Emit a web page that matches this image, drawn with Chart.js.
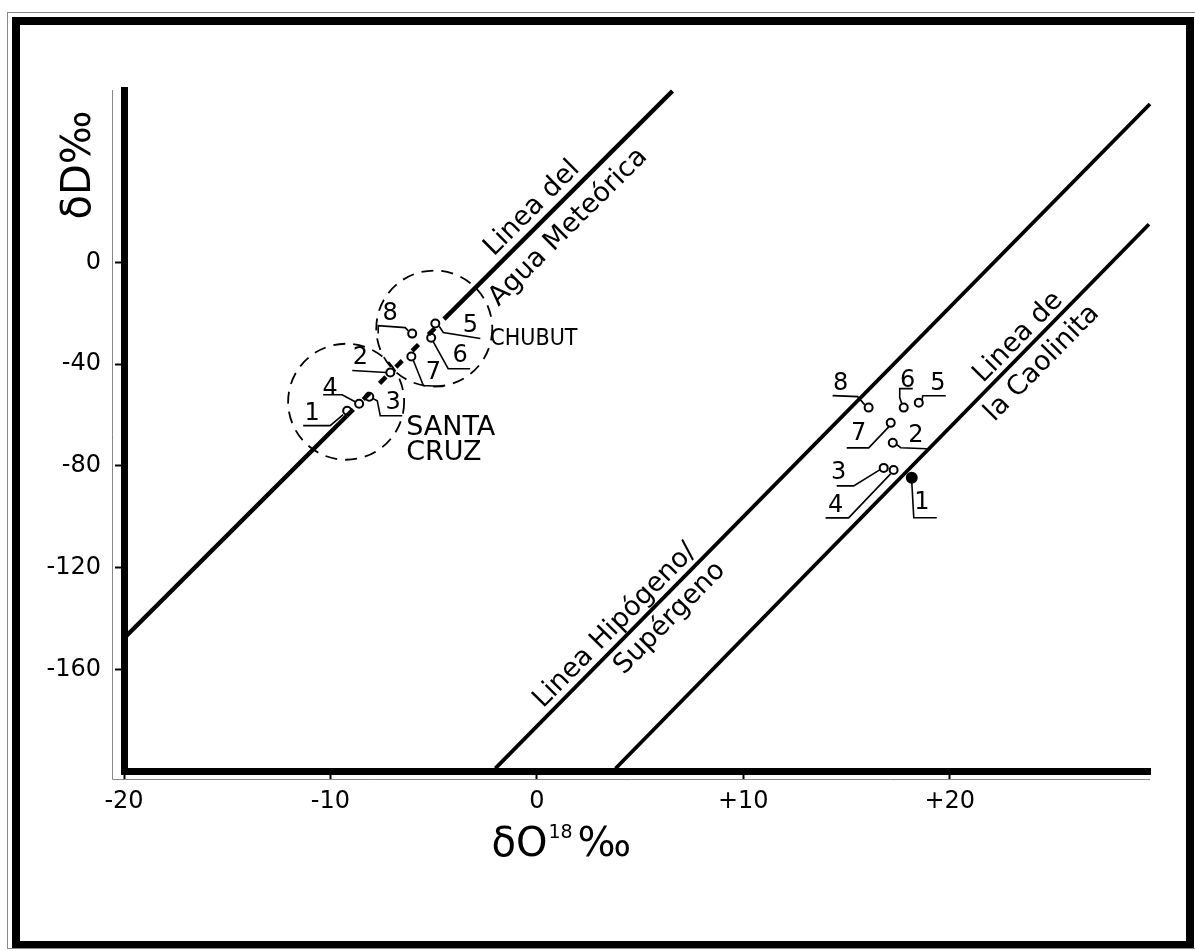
<!DOCTYPE html>
<html>
<head>
<meta charset="utf-8">
<script src="https://cdn.jsdelivr.net/npm/chart.js@4.4.1/dist/chart.umd.min.js"></script>
<style>
  html, body { margin: 0; padding: 0; background: #fff; }
  #wrap { width: 1195px; height: 951px; }
</style>
</head>
<body>
<div id="wrap"><canvas id="c" width="1195" height="951"></canvas></div>
<script>
// axis ticks
const xTicks = [-20, -10, 0, 10, 20];
const yTicks = [0, -40, -80, -120, -160];

// sample numbers (same order in both groups)
const sampleNums = ['1', '2', '3', '4', '5', '6', '7', '8'];

// waters: Santa Cruz (1-4) and Chubut (5-8)
const waterX = [-9.19, -7.10, -8.12, -8.61, -4.92, -5.12, -6.08, -6.04];
const waterY = [-58.3, -43.3, -52.8, -55.6, -24.0, -29.6, -37.0, -28.0];

// kaolinites
const kaolX = [18.16, 17.24, 16.80, 17.28, 18.50, 17.77, 17.14, 16.07];
const kaolY = [-84.7, -70.9, -80.8, -81.6, -55.2, -57.1, -63.1, -57.1];

// reference lines (end points, meteoric line broken where the samples sit)
const meteoricX = [-20, -9.2, -4.5, 6.57];
const meteoricY = [-147.8, -60.3, -22.3, 67.4];
const hypoX = [-2.01, 29.7];
const hypoY = [-199, 62.3];
const caolLineX = [3.81, 29.65];
const caolLineY = [-199, 15.0];

// province groups (dashed circles)
const groupNames = [['SANTA', 'CRUZ'], ['CHUBUT']];
const groupX = [-9.24, -4.97];
const groupY = [-54.8, -26.0];

const FONT = '"DejaVu Sans", "Liberation Sans", sans-serif';
const FONT_NARROW = '"DejaVu Sans Condensed", "DejaVu Sans", sans-serif';

const seg = (xs, ys, i) => [{ x: xs[i], y: ys[i] }, { x: xs[i + 1], y: ys[i + 1] }];
const pts = (xs, ys) => xs.map((x, i) => ({ x: x, y: ys[i] }));

// label offsets and leader polylines, relative to each point (pixels)
const waterLeaders = [
  { t: [-35, 3],   p: [[-4, 4], [-17, 15], [-44, 15]] },
  { t: [-30, -15], p: [[-4, 0], [-38, -2]] },
  { t: [24, 6],    p: [[4, 2], [8, 4], [11, 19], [33, 19]] },
  { t: [-29, -15], p: [[-4, -2], [-17, -9], [-36, -9]] },
  { t: [35, 2],    p: [[4, 3], [8, 9], [45, 15]] },
  { t: [29, 18],   p: [[2, 4], [17, 31], [39, 31]] },
  { t: [22, 16],   p: [[2, 4], [12, 29], [32, 30]] },
  { t: [-22, -20], p: [[-4, -3], [-7, -6], [-34, -8], [-34, 0]] }
];
const kaolLeaders = [
  { t: [10, 25],   p: [[0, 4], [2, 40], [25, 40]] },
  { t: [23, -7],   p: [[4, 2], [8, 5], [34, 6]] },
  { t: [-45, 5],   p: [[-4, 2], [-30, 18], [-47, 18]] },
  { t: [-58, 36],  p: [[-3, 4], [-45, 48], [-68, 48]] },
  { t: [19, -19],  p: [[3, -2], [4, -7], [27, -7]] },
  { t: [4, -27],   p: [[-2, -4], [-4, -10], [-4, -19], [9, -19]] },
  { t: [-32, 11],  p: [[-2, 4], [-22, 25], [-44, 25]] },
  { t: [-28, -24], p: [[-4, -3], [-11, -11], [-36, -12]] }
];

// rotated labels along the lines: anchor x on the line, offset across it
const lineLabels = [
  { xs: meteoricX, ys: meteoricY, at: 0.32, off: -16, text: 'Linea del' },
  { xs: meteoricX, ys: meteoricY, at: 0.74, off: 23, text: 'Agua Meteórica' },
  { xs: hypoX, ys: hypoY, at: 4.30, off: -15, text: 'Linea Hipógeno/' },
  { xs: hypoX, ys: hypoY, at: 5.79, off: 19, text: 'Supérgeno' },
  { xs: caolLineX, ys: caolLineY, at: 23.81, off: -14, text: 'Linea de' },
  { xs: caolLineX, ys: caolLineY, at: 23.75, off: 21, text: 'la Caolinita' }
];

const lineY = (xs, ys, x) => {
  const n = xs.length - 1;
  return ys[0] + (ys[n] - ys[0]) * (x - xs[0]) / (xs[n] - xs[0]);
};

const decor = {
  id: 'decor',
  beforeDraw(chart) {
    const c = chart.ctx;
    c.save();
    c.fillStyle = '#fff';
    c.fillRect(0, 0, chart.width, chart.height);
    // frame
    c.strokeStyle = '#000';
    c.lineWidth = 8;
    c.strokeRect(16, 21, 1174, 924);
    c.strokeStyle = '#888';
    c.lineWidth = 1;
    c.strokeRect(7.5, 12.5, 1190, 936);
    // faint double lines next to the axes
    const a = chart.chartArea;
    c.beginPath();
    c.moveTo(a.left - 11.5, a.top);
    c.lineTo(a.left - 11.5, a.bottom + 8.5);
    c.lineTo(a.right, a.bottom + 8.5);
    c.stroke();
    c.restore();
  },
  afterDatasetsDraw(chart) {
    const c = chart.ctx;
    const xs = chart.scales.x, ys = chart.scales.y;
    const a = chart.chartArea;
    c.save();
    c.fillStyle = '#000';
    c.strokeStyle = '#000';

    // dashed circles around the two water groups
    c.lineWidth = 1.8;
    c.setLineDash([12, 8]);
    groupX.forEach((gx, i) => {
      const px = xs.getPixelForValue(gx), py = ys.getPixelForValue(groupY[i]);
      c.beginPath();
      c.arc(px, py, 58, 0, Math.PI * 2);
      c.stroke();
    });
    c.setLineDash([]);

    // group names
    c.font = '27px ' + FONT;
    c.textAlign = 'left';
    c.textBaseline = 'middle';
    let px = xs.getPixelForValue(groupX[0]), py = ys.getPixelForValue(groupY[0]);
    c.fillText(groupNames[0][0], px + 60, py + 26);
    c.fillText(groupNames[0][1], px + 60, py + 51);
    px = xs.getPixelForValue(groupX[1]); py = ys.getPixelForValue(groupY[1]);
    c.font = '23px ' + FONT_NARROW;
    c.fillText(groupNames[1][0], px + 56, py + 11);

    // sample numbers with leaders
    const drawNums = (xv, yv, leaders) => {
      xv.forEach((x, i) => {
        const ppx = xs.getPixelForValue(x), ppy = ys.getPixelForValue(yv[i]);
        const L = leaders[i];
        c.lineWidth = 1.6;
        c.beginPath();
        L.p.forEach((q, k) => {
          if (k === 0) c.moveTo(ppx + q[0], ppy + q[1]);
          else c.lineTo(ppx + q[0], ppy + q[1]);
        });
        c.stroke();
        c.font = '24px ' + FONT;
        c.textAlign = 'center';
        c.textBaseline = 'middle';
        c.fillText(sampleNums[i], ppx + L.t[0], ppy + L.t[1]);
      });
    };
    drawNums(waterX, waterY, waterLeaders);
    drawNums(kaolX, kaolY, kaolLeaders);

    // rotated line labels
    c.font = '27px ' + FONT;
    lineLabels.forEach(l => {
      const n = l.xs.length - 1;
      const x0 = xs.getPixelForValue(l.xs[0]), y0 = ys.getPixelForValue(l.ys[0]);
      const x1 = xs.getPixelForValue(l.xs[n]), y1 = ys.getPixelForValue(l.ys[n]);
      const ang = Math.atan2(y1 - y0, x1 - x0);
      const ax = xs.getPixelForValue(l.at), ay = ys.getPixelForValue(lineY(l.xs, l.ys, l.at));
      c.save();
      c.translate(ax, ay);
      c.rotate(ang);
      c.textAlign = 'center';
      c.textBaseline = 'middle';
      c.fillText(l.text, 0, l.off);
      c.restore();
    });

    // axis titles
    c.save();
    c.translate(a.left - 44, a.top + 75);
    c.rotate(-Math.PI / 2);
    c.font = '40px ' + FONT;
    c.textAlign = 'center';
    c.textBaseline = 'middle';
    c.fillText('δD‰', 0, 0);
    c.restore();

    c.textAlign = 'left';
    c.textBaseline = 'alphabetic';
    const tx = xs.getPixelForValue(-2.2), tb = a.bottom + 85;
    c.font = '40px ' + FONT;
    c.fillText('δO', tx, tb);
    const w = c.measureText('δO').width;
    c.font = '19px ' + FONT;
    c.fillText('18', tx + w + 1, tb - 18);
    const w2 = c.measureText('18').width;
    c.font = '40px ' + FONT;
    c.fillText('‰', tx + w + w2 + 6, tb);
    c.restore();
  }
};

const lineDs = (data, width, dash) => ({
  data: data, showLine: true, borderColor: '#000', borderWidth: width,
  borderDash: dash || [], pointRadius: 0, clip: false, borderCapStyle: 'butt'
});

new Chart(document.getElementById('c'), {
  type: 'scatter',
  data: {
    datasets: [
      lineDs(seg(meteoricX, meteoricY, 0), 4.5),
      lineDs(seg(meteoricX, meteoricY, 1), 4.5, [9, 14]),
      lineDs(seg(meteoricX, meteoricY, 2), 4.5),
      lineDs(pts(hypoX, hypoY), 3.8),
      lineDs(pts(caolLineX, caolLineY), 3.8),
      {
        data: pts(waterX, waterY), pointRadius: 4, borderWidth: 2,
        backgroundColor: '#fff', borderColor: '#000', clip: false
      },
      {
        data: pts(kaolX, kaolY),
        pointRadius: kaolX.map((v, i) => i === 0 ? 5 : 4),
        borderWidth: 2,
        backgroundColor: kaolX.map((v, i) => i === 0 ? '#000' : '#fff'),
        borderColor: '#000', clip: false
      }
    ]
  },
  options: {
    responsive: false,
    animation: false,
    devicePixelRatio: 1,
    layout: { padding: { left: 0, right: 45, top: 90, bottom: 0 } },
    plugins: { legend: { display: false }, tooltip: { enabled: false } },
    scales: {
      x: {
        type: 'linear', min: -20, max: 29.7,
        afterBuildTicks: s => { s.ticks = xTicks.map(v => ({ value: v })); },
        afterFit: s => { s.height = 180; },
        border: { display: true, color: '#000', width: 7 },
        grid: { drawOnChartArea: false, drawTicks: true, tickLength: 8, tickWidth: 2, tickColor: '#000' },
        ticks: {
          color: '#000', padding: 8, maxRotation: 0,
          font: { family: FONT, size: 24 },
          callback: v => v > 0 ? '+' + v : String(v)
        }
      },
      y: {
        type: 'linear', min: -200, max: 67.8,
        afterBuildTicks: s => { s.ticks = yTicks.map(v => ({ value: v })); },
        afterFit: s => { s.width = 124; },
        border: { display: true, color: '#000', width: 7 },
        grid: { drawOnChartArea: false, drawTicks: true, tickLength: 9, tickWidth: 2, tickColor: '#000' },
        ticks: {
          color: '#000', padding: 14,
          font: { family: FONT, size: 24 },
          callback: v => String(v)
        }
      }
    }
  },
  plugins: [decor]
});
</script>
</body>
</html>
